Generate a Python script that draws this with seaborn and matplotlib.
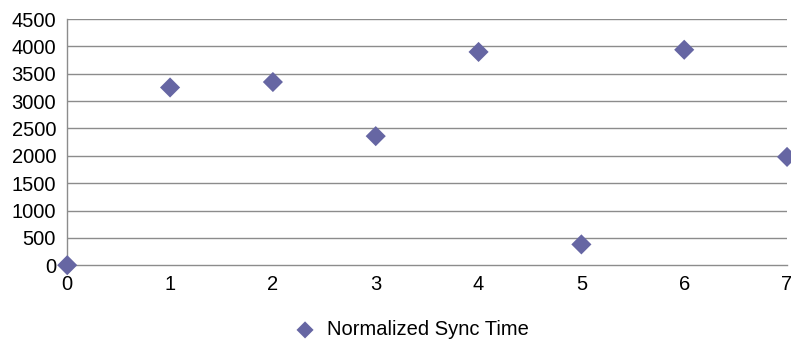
import numpy as np
import pandas as pd
import matplotlib.pyplot as plt
import seaborn as sns

# data
runs = [0, 1, 2, 3, 4, 5, 6, 7]
sync_time = [0, 3250, 3350, 2360, 3900, 380, 3940, 1980]
y_ticks = [0, 500, 1000, 1500, 2000, 2500, 3000, 3500, 4000, 4500]

df = pd.DataFrame({"run": runs, "Normalized Sync Time": sync_time})

sns.set_theme(style="white")
plt.rcParams['font.family'] = ['Liberation Sans', 'DejaVu Sans']

fig, ax = plt.subplots(figsize=(7.91, 3.48), dpi=100)
fig.subplots_adjust(left=0.085, right=0.995, top=0.945, bottom=0.238)

grid_col = "#8c8c8c"
ax.set_axisbelow(True)
for yv in y_ticks[1:]:
    ax.axhline(yv, color=grid_col, lw=1.0, zorder=0)

sns.scatterplot(data=df, x="run", y="Normalized Sync Time", marker="D", s=105,
                color="#6666a3", edgecolor="none", ax=ax, clip_on=False, zorder=3,
                label="Normalized Sync Time")

ax.set_xlim(0, 7)
ax.set_ylim(0, 4500)
ax.set_xticks(runs)
ax.set_yticks(y_ticks)
ax.set_xlabel("")
ax.set_ylabel("")

for side in ["top", "right"]:
    ax.spines[side].set_visible(False)
for side in ["left", "bottom"]:
    ax.spines[side].set_color(grid_col)
    ax.spines[side].set_linewidth(1.0)

ax.tick_params(axis="both", which="both", length=5, width=1, color=grid_col,
               labelsize=14.5, labelcolor="black", direction="out", pad=2)
ax.tick_params(axis="y", pad=3)

leg = ax.legend(loc="upper center", bbox_to_anchor=(0.472, -0.15), frameon=False,
                fontsize=14.5, handletextpad=0.1, markerscale=0.85)
for t in leg.get_texts():
    t.set_color("black")

plt.savefig("out.png", dpi=100)
